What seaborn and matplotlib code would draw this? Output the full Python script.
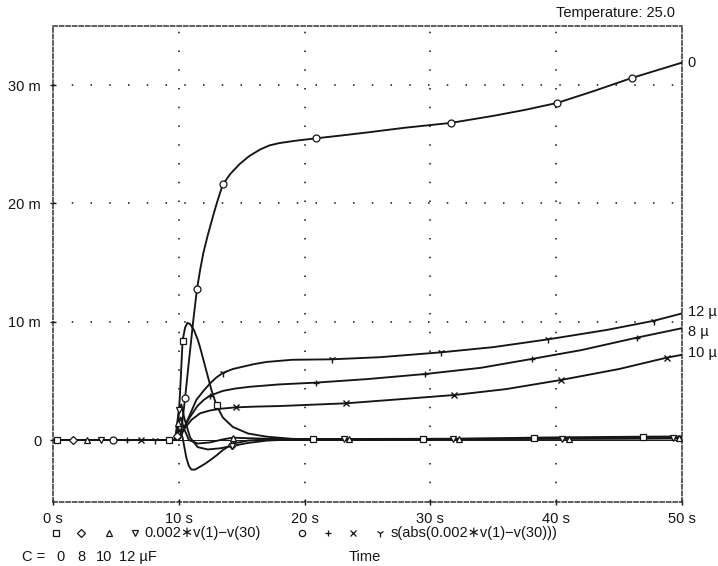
import numpy as np
import pandas as pd
import matplotlib
matplotlib.use("Agg")
import matplotlib.pyplot as plt
from matplotlib.lines import Line2D
import seaborn as sns

# ---------------- data ----------------
# group 1 : 0.002*v(1)-v(30)   (units: m)
g1_c0_t = [0, 9.6, 9.9, 10.1, 10.3, 10.5, 10.68, 10.9, 11.2, 11.5, 11.7, 12.0, 12.2, 12.6, 13.0, 13.5, 14.3, 15.5, 17.0, 19.0, 20.7, 25, 29.4, 34, 38.2, 42, 46.9, 50]
g1_c0_v = [0, 0, 0.5, 4.0, 8.4, 9.5, 9.9, 9.8, 9.3, 8.5, 7.8, 6.6, 5.8, 4.2, 2.93, 1.9, 1.1, 0.55, 0.28, 0.1, 0.05, 0.04, 0.05, 0.12, 0.2, 0.24, 0.28, 0.3]
g1_c8_t = [0, 9.6, 9.83, 10.05, 10.3, 10.6, 10.8, 11.0, 11.3, 11.7, 12.1, 12.5, 13.0, 13.5, 14.3, 15.5, 17, 20, 30, 40, 50]
g1_c8_v = [0, 0, 0.34, 0.9, 0.2, -1.5, -2.2, -2.5, -2.5, -2.25, -2.0, -1.7, -1.3, -0.85, -0.3, -0.05, 0.05, 0.08, 0.1, 0.12, 0.15]
g1_c10_t = [0, 9.7, 9.97, 10.15, 10.4, 10.8, 11.5, 12.5, 13.5, 14.3, 15.5, 18, 25, 35, 50]
g1_c10_v = [0, 0, 1.4, 1.9, 1.0, 0.0, -0.3, -0.2, 0.05, 0.2, 0.15, 0.08, 0.08, 0.1, 0.15]
g1_c12_t = [0, 9.7, 10.0, 10.2, 10.45, 10.9, 11.5, 12.3, 13.3, 14.26, 15.5, 17, 19, 25, 35, 50]
g1_c12_v = [0, 0, 2.5, 3.0, 1.8, 0.2, -0.6, -0.8, -0.7, -0.5, -0.25, -0.05, 0.05, 0.08, 0.1, 0.15]

# group 2 : s(abs(0.002*v(1)-v(30)))   (units: m)
g2_c0_t = [0, 10.0, 10.2, 10.5, 10.75, 11.0, 11.15, 11.45, 11.7, 11.95, 12.3, 12.74, 13.1, 13.5, 14.1, 14.86, 15.6, 16.45, 17.2, 18, 19.3, 20.9, 23, 25, 28, 31.6, 35, 37.5, 40.1, 43, 46.0, 48, 50]
g2_c0_v = [0, 0, 0.8, 3.55, 6.1, 8.6, 10.1, 12.8, 14.4, 15.8, 17.3, 19.0, 20.3, 21.6, 22.5, 23.35, 24.0, 24.55, 24.9, 25.1, 25.3, 25.5, 25.75, 26.0, 26.4, 26.8, 27.4, 27.9, 28.5, 29.5, 30.6, 31.25, 31.9]
g2_c8_t = [0, 10.0, 10.3, 10.8, 11.5, 12.0, 12.48, 13.5, 14.5, 15.66, 18, 20.9, 25, 29.6, 34, 38.05, 42, 46.4, 50]
g2_c8_v = [0, 0, 0.8, 1.8, 2.9, 3.4, 3.75, 4.15, 4.35, 4.5, 4.7, 4.85, 5.15, 5.58, 6.1, 6.85, 7.6, 8.65, 9.45]
g2_c10_t = [0, 10.0, 10.4, 11.0, 11.7, 12.5, 13.4, 14.55, 16, 18, 23.27, 27, 31.88, 36, 40.36, 45, 48.78, 50]
g2_c10_v = [0, 0, 0.9, 1.7, 2.26, 2.5, 2.65, 2.76, 2.82, 2.87, 3.1, 3.4, 3.8, 4.3, 5.07, 6.0, 6.96, 7.2]
g2_c12_t = [0, 10.0, 10.3, 10.7, 11.4, 12.0, 12.5, 13.0, 13.54, 14.3, 15.1, 16, 17, 19, 22.15, 26, 30.84, 35, 39.37, 44, 47.77, 50]
g2_c12_v = [0, 0, 0.7, 1.7, 3.4, 4.2, 4.8, 5.3, 5.69, 6.0, 6.2, 6.42, 6.6, 6.78, 6.82, 7.0, 7.41, 7.85, 8.51, 9.3, 10.08, 10.7]

# marker positions on each trace
mk_g1_c0_t = [0.3, 9.2, 10.3, 13.0, 20.7, 29.4, 38.2, 46.9]
mk_g1_c0_v = [0, 0, 8.4, 2.93, 0.05, 0.05, 0.2, 0.28]
mk_g1_c8_t = [1.6, 9.83, 14.2]
mk_g1_c8_v = [0, 0.34, -0.45]
mk_g1_c10_t = [2.7, 9.97, 14.3, 23.55, 32.3, 41.0, 49.8]
mk_g1_c10_v = [0, 1.4, 0.2, 0.1, 0.1, 0.1, 0.15]
mk_g1_c12_t = [3.8, 10.0, 14.26, 23.1, 31.8, 40.5, 49.3]
mk_g1_c12_v = [0, 2.5, -0.5, 0.08, 0.1, 0.1, 0.15]
mk_g2_c0_t = [4.8, 10.5, 11.45, 13.5, 20.9, 31.6, 40.1, 46.0]
mk_g2_c0_v = [0, 3.55, 12.8, 21.6, 25.5, 26.8, 28.5, 30.6]
mk_g2_c8_t = [5.9, 12.48, 20.9, 29.6, 38.05, 46.4]
mk_g2_c8_v = [0, 3.75, 4.85, 5.58, 6.85, 8.65]
mk_g2_c10_t = [7.0, 14.55, 23.27, 31.88, 40.36, 48.78]
mk_g2_c10_v = [0, 2.76, 3.1, 3.8, 5.07, 6.96]
mk_g2_c12_t = [8.1, 13.54, 22.15, 30.84, 39.37, 47.77]
mk_g2_c12_v = [0, 5.69, 6.82, 7.41, 8.51, 10.08]

x_ticks = [0, 10, 20, 30, 40, 50]
x_tick_labels = ["0 s", "10 s", "20 s", "30 s", "40 s", "50 s"]
y_ticks = [0, 10, 20, 30]
y_tick_labels = ["0", "10 m", "20 m", "30 m"]
end_labels = ["0", "12 \u00b5", "8 \u00b5", "10 \u00b5"]
legend_g1 = "0.002\u2217v(1)\u2212v(30)"
legend_g2 = "s(abs(0.002\u2217v(1)\u2212v(30)))"
cap_values = ["0", "8", "10", "12 \u00b5F"]

# ---------------- build table ----------------
traces = [
    ("g1_0", g1_c0_t, g1_c0_v, mk_g1_c0_t, mk_g1_c0_v, "s"),
    ("g1_8", g1_c8_t, g1_c8_v, mk_g1_c8_t, mk_g1_c8_v, "D"),
    ("g1_10", g1_c10_t, g1_c10_v, mk_g1_c10_t, mk_g1_c10_v, "^"),
    ("g1_12", g1_c12_t, g1_c12_v, mk_g1_c12_t, mk_g1_c12_v, "v"),
    ("g2_0", g2_c0_t, g2_c0_v, mk_g2_c0_t, mk_g2_c0_v, "o"),
    ("g2_8", g2_c8_t, g2_c8_v, mk_g2_c8_t, mk_g2_c8_v, "+"),
    ("g2_10", g2_c10_t, g2_c10_v, mk_g2_c10_t, mk_g2_c10_v, "x"),
    ("g2_12", g2_c12_t, g2_c12_v, mk_g2_c12_t, mk_g2_c12_v, "1"),
]
df = pd.concat([pd.DataFrame({"t": t, "v": v, "series": name}) for name, t, v, _, _, _ in traces],
               ignore_index=True)

# ---------------- style ----------------
sns.set_theme(style="white")
plt.rcParams["font.family"] = ["Liberation Sans", "DejaVu Sans"]
plt.rcParams["lines.scale_dashes"] = False
INK = "#151515"

fig = plt.figure(figsize=(7.18, 5.66), dpi=100)
W, H = 718, 566
ax = fig.add_axes([53 / W, 1 - 502 / H, 629 / W, 476 / H])
ax.set_facecolor("white")

# grid (dotted)
for gx in x_ticks[1:-1]:
    ax.axvline(gx, color="#333333", lw=1.3, ls=(0, (1.1, 12.4)), zorder=0)
for gy in y_ticks[1:]:
    ax.axhline(gy, color="#333333", lw=1.3, ls=(0, (1.1, 12.4)), zorder=0)
ax.axhline(0, color=INK, lw=0.7, zorder=1)

sns.lineplot(data=df, x="t", y="v", units="series", estimator=None, sort=False,
             color=INK, lw=1.35, ax=ax, legend=False, zorder=3)

for name, t, v, mt, mv, mk in traces:
    if mk in ("+", "x", "1"):
        ax.plot(mt, mv, ls="none", marker=mk, ms=5 if mk != "1" else 6, mew=1.0, color=INK, zorder=5)
    else:
        ax.plot(mt, mv, ls="none", marker=mk, ms=5 if mk != "D" else 4.5, mfc="white", mec=INK,
                mew=0.9, zorder=5)

ax.set_xlim(0, 50)
ax.set_ylim(-(502 - 440) / 11.83, (440 - 26) / 11.83)
ax.set_xticks(x_ticks)
ax.set_xticklabels(x_tick_labels)
ax.set_yticks(y_ticks)
ax.set_yticklabels(y_tick_labels)
ax.set_xlabel("")
ax.set_ylabel("")
ax.tick_params(axis="both", direction="inout", length=5, width=1.0, color=INK,
               labelsize=10.5, labelcolor=INK, bottom=True, left=True)
ax.tick_params(axis="x", pad=5)
ax.tick_params(axis="y", pad=6)

for sp in ax.spines.values():
    sp.set_visible(True)
    sp.set_color("#333333")
    sp.set_linewidth(1.1)
    sp.set_linestyle((0, (3.0, 1.7)))

# end-of-curve labels
ends = [(g2_c0_v[-1], end_labels[0], 0.0), (g2_c12_v[-1], end_labels[1], 0.15),
        (g2_c8_v[-1], end_labels[2], -0.3), (g2_c10_v[-1], end_labels[3], 0.15)]
for yv, lab, dy in ends:
    ax.text(50.45, yv + dy, lab, fontsize=10.5, color=INK, va="center", ha="left", clip_on=False)

# text outside the axes
fig.text(675 / W, 1 - 13 / H, "Temperature: 25.0", fontsize=10.5, color=INK, ha="right", va="center")

row1 = 1 - 533 / H
row2 = 1 - 557 / H
mk_x = [56, 80.5, 109, 135, 301.5, 328, 353, 379.5]
mk_sym = ["s", "D", "^", "v", "o", "+", "x", "1"]
for xx, m in zip(mk_x, mk_sym):
    if m in ("+", "x", "1"):
        fig.add_artist(Line2D([xx / W], [row1], marker=m, ms=4.5 if m != "1" else 5.5, mew=0.9,
                              color=INK, ls="none", transform=fig.transFigure))
    else:
        fig.add_artist(Line2D([xx / W], [row1], marker=m, ms=4.5 if m != "D" else 4.2, mfc="white",
                              mec=INK, mew=0.9, ls="none", transform=fig.transFigure))
fig.text(144 / W, row1, legend_g1, fontsize=10.5, color=INK, ha="left", va="center",
         family=["Liberation Sans", "DejaVu Sans"])
fig.text(391 / W, row1, legend_g2, fontsize=10.5, color=INK, ha="left", va="center",
         family=["Liberation Sans", "DejaVu Sans"])

fig.text(22 / W, row2, "C =", fontsize=10.5, color=INK, ha="left", va="center")
cap_x = [56, 77, 96, 119]
for xx, s in zip(cap_x, cap_values):
    fig.text(xx / W, row2, s, fontsize=10.5, color=INK, ha="left", va="center")
fig.text(365 / W, row2, "Time", fontsize=10.5, color=INK, ha="center", va="center")

fig.savefig("out.png", dpi=100)
